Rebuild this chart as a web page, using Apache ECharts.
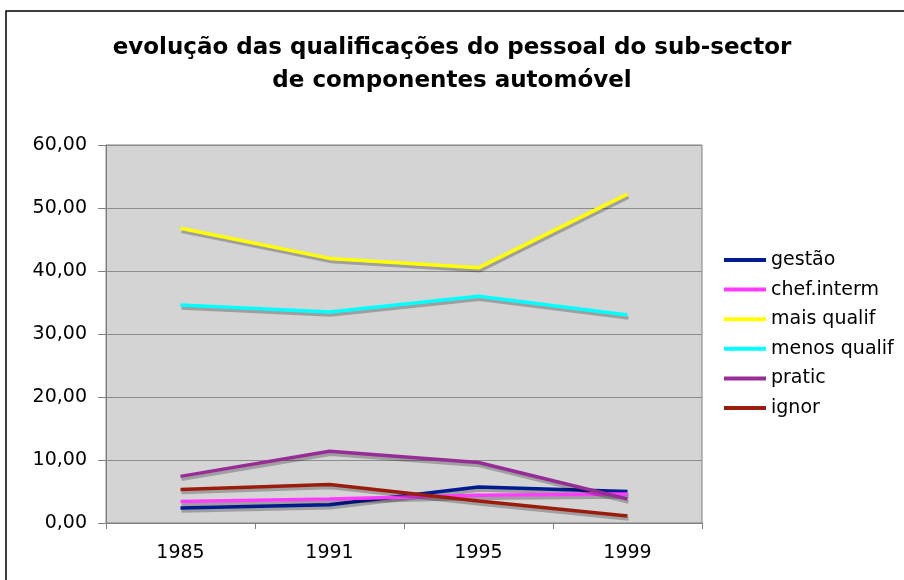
<!DOCTYPE html>
<html>
  <head>
    <meta charset="utf-8" />
    <title>ECharts</title>
    <style type="text/css">
      html,
      body {
        margin: 0;
        background: #fff;
      }
    </style>
    <script src="https://cdn.jsdelivr.net/npm/echarts@6/dist/echarts.min.js"></script>
  </head>
  <body>
    <div id="chart" style="width: 904px; height: 580px"></div>
    <script type="text/javascript">
      var years = ["1985", "1991", "1995", "1999"];
      var seriesNames = ["gestão", "chef.interm", "mais qualif", "menos qualif", "pratic", "ignor"];
      var seriesColors = ["#001a90", "#ff3cff", "#ffff00", "#00ffff", "#962d96", "#9a1c0c"];
      var gestao = [2.4, 2.9, 5.7, 5.0];
      var chefInterm = [3.4, 3.8, 4.4, 4.6];
      var maisQualif = [46.8, 42.0, 40.5, 52.2];
      var menosQualif = [34.6, 33.5, 36.0, 33.0];
      var pratic = [7.4, 11.4, 9.6, 3.8];
      var ignor = [5.3, 6.1, 3.5, 1.1];
      var seriesValues = [gestao, chefInterm, maisQualif, menosQualif, pratic, ignor];

      var font = "DejaVu Sans";
      var chart = echarts.init(document.getElementById("chart"));

      var option = {
        animation: false,
        title: {
          text: "evolução das qualificações do pessoal do sub-sector\nde componentes automóvel",
          left: "center",
          top: 27,
          textStyle: {
            fontFamily: font,
            fontWeight: "bold",
            fontSize: 23,
            lineHeight: 33,
            color: "#000",
          },
        },
        graphic: [
          {
            type: "rect",
            shape: { x: 6, y: 11, width: 1000, height: 1000 },
            style: { fill: "none", stroke: "#000", lineWidth: 1.5 },
            silent: true,
          },
        ],
        legend: {
          orient: "vertical",
          left: 724,
          top: 250,
          padding: 0,
          icon: "rect",
          itemWidth: 42,
          itemHeight: 4,
          itemGap: 9.6,
          data: seriesNames,
          textStyle: {
            fontFamily: font,
            fontSize: 19,
            lineHeight: 20,
            color: "#000",
          },
        },
        grid: {
          left: 106,
          right: 202,
          top: 145,
          bottom: 57,
          show: true,
          backgroundColor: "#d4d4d4",
          borderColor: "#808080",
          borderWidth: 1,
        },
        xAxis: {
          type: "category",
          data: years,
          boundaryGap: true,
          axisLine: { lineStyle: { color: "#808080", width: 1 } },
          axisTick: { show: true, length: 6, lineStyle: { color: "#808080" } },
          axisLabel: {
            fontFamily: font,
            fontSize: 19,
            color: "#000",
            margin: 21,
          },
        },
        yAxis: {
          type: "value",
          min: 0,
          max: 60,
          interval: 10,
          axisLine: { show: true, lineStyle: { color: "#808080", width: 1 } },
          axisTick: { show: true, length: 8, lineStyle: { color: "#808080" } },
          splitLine: { lineStyle: { color: "#8c8c8c", width: 1 } },
          axisLabel: {
            fontFamily: font,
            fontSize: 19,
            color: "#000",
            margin: 19,
            formatter: function (v) {
              return v.toFixed(2).replace(".", ",");
            },
          },
        },
        series: seriesNames.map(function (name, i) {
          return {
            name: name,
            type: "line",
            data: seriesValues[i],
            symbol: "none",
            color: seriesColors[i],
            lineStyle: {
              width: 3.5,
              color: seriesColors[i],
              shadowColor: "rgba(0,0,0,0.25)",
              shadowBlur: 0,
              shadowOffsetX: 1,
              shadowOffsetY: 3,
            },
          };
        }),
      };
      chart.setOption(option);
    </script>
  </body>
</html>
